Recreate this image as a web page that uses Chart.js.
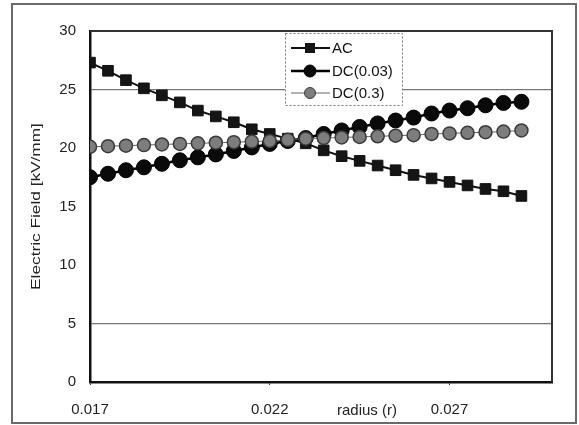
<!DOCTYPE html>
<html>
<head>
<meta charset="utf-8">
<script src="https://cdn.jsdelivr.net/npm/chart.js@4.4.1/dist/chart.umd.min.js"></script>
<style>
html,body{margin:0;padding:0;background:#fff;}
#wrap{width:579px;height:425px;position:relative;}
</style>
</head>
<body>
<div id="wrap"><canvas id="c" width="579" height="425"></canvas></div>
<script>
// ---- data ----
const radius = [0.0170,0.0175,0.0180,0.0185,0.0190,0.0195,0.0200,0.0205,0.0210,0.0215,0.0220,0.0225,0.0230,
                0.0235,0.0240,0.0245,0.0250,0.0255,0.0260,0.0265,0.0270,0.0275,0.0280,0.0285,0.0290];
const acValues = [27.3,26.6,25.8,25.1,24.5,23.9,23.2,22.7,22.2,21.6,21.2,20.8,20.4,
                  19.8,19.3,18.9,18.5,18.1,17.7,17.4,17.1,16.8,16.5,16.3,15.9];
const dc003Values = [17.5,17.8,18.1,18.35,18.65,18.95,19.2,19.45,19.75,20.05,20.35,20.6,20.85,
                     21.2,21.5,21.8,22.1,22.35,22.6,22.95,23.2,23.4,23.65,23.85,23.95];
const dc03Values = [20.1,20.15,20.2,20.25,20.3,20.35,20.4,20.45,20.5,20.55,20.6,20.7,20.8,
                    20.85,20.9,20.95,21.0,21.05,21.1,21.2,21.25,21.3,21.35,21.4,21.5];
const seriesNames = ['AC','DC(0.03)','DC(0.3)'];
const xTickValues = [0.017,0.022,0.027];
const yTickValues = [0,5,10,15,20,25,30];
const xTitle = 'radius (r)';
const yTitle = 'Electric Field [kV/mm]';

const FONT = "'Liberation Sans', Arial, sans-serif";
const toPts = (ys) => ys.map((y,i)=>({x: radius[i], y: y}));

const styles = [
  {borderColor:'#111', backgroundColor:'#151515', pointStyle:'rect', pointRadius:7.5, borderWidth:2, pbw:1, pbc:'#111'},
  {borderColor:'#000', backgroundColor:'#0a0a0a', pointStyle:'circle', pointRadius:7.5, borderWidth:2.5, pbw:1, pbc:'#000'},
  {borderColor:'#666', backgroundColor:'#7d7d7d', pointStyle:'circle', pointRadius:6.5, borderWidth:1, pbw:1.5, pbc:'#3a3a3a'}
];
const vals = [acValues, dc003Values, dc03Values];

const datasets = seriesNames.map((n,i)=>({
  label:n,
  data: toPts(vals[i]),
  borderColor: styles[i].borderColor,
  backgroundColor: styles[i].backgroundColor,
  pointBackgroundColor: styles[i].backgroundColor,
  pointBorderColor: styles[i].pbc,
  pointBorderWidth: styles[i].pbw,
  pointStyle: styles[i].pointStyle,
  pointRadius: styles[i].pointRadius,
  borderWidth: styles[i].borderWidth,
  tension: 0,
  order: 3 - i
}));

const framePlugin = {
  id:'frame',
  beforeDraw(chart){
    const ctx = chart.ctx;
    ctx.save();
    ctx.fillStyle='#fff';
    ctx.fillRect(0,0,chart.width,chart.height);
    ctx.strokeStyle='#6a6a6a';
    ctx.lineWidth=2;
    ctx.strokeRect(12,4,564,419);
    ctx.restore();
  },
  afterDatasetsDraw(chart){
    const ctx = chart.ctx, a = chart.chartArea;
    ctx.save();
    // top & right border of plot area
    ctx.strokeStyle='#333';
    ctx.lineWidth=2;
    ctx.beginPath();
    ctx.moveTo(a.left, a.top); ctx.lineTo(a.right, a.top); ctx.lineTo(a.right, a.bottom);
    ctx.stroke();
    // x title inline with tick labels
    ctx.fillStyle='#222';
    ctx.font = "15px " + FONT;
    ctx.textAlign='center';
    ctx.textBaseline='middle';
    ctx.fillText(xTitle, a.left + 277, a.bottom + 29);
    // y title (stretched along its length like the scanned original)
    ctx.save();
    ctx.translate(a.left - 54, (a.top + a.bottom) / 2);
    ctx.rotate(-Math.PI/2);
    ctx.scale(1.15, 0.9);
    ctx.font = "15px " + FONT;
    ctx.fillText(yTitle, 0, 0);
    ctx.restore();
    // legend
    const bx = a.left + 195, by = a.top + 2, bw = 117, bh = 72;
    ctx.fillStyle='#fff';
    ctx.fillRect(bx,by,bw,bh);
    ctx.setLineDash([2,2]);
    ctx.strokeStyle='#777';
    ctx.lineWidth=1;
    ctx.strokeRect(bx+0.5,by+0.5,bw,bh);
    ctx.setLineDash([]);
    const rows = [by+15, by+38, by+60];
    chart.data.datasets.forEach((ds,i)=>{
      const y = rows[i];
      ctx.strokeStyle = ds.borderColor;
      ctx.lineWidth = ds.borderWidth;
      ctx.beginPath(); ctx.moveTo(bx+6,y); ctx.lineTo(bx+45,y); ctx.stroke();
      ctx.fillStyle = ds.pointBackgroundColor;
      ctx.strokeStyle = ds.pointBorderColor;
      ctx.lineWidth = 1;
      if (ds.pointStyle==='rect'){
        ctx.fillRect(bx+20,y-5,10,10);
      } else {
        ctx.beginPath(); ctx.arc(bx+25,y,i===1?6:5.5,0,Math.PI*2); ctx.fill(); ctx.stroke();
      }
      ctx.fillStyle='#111';
      ctx.font = "15px " + FONT;
      ctx.textAlign='left';
      ctx.fillText(ds.label, bx+47, y+1);
    });
    ctx.restore();
  }
};

new Chart(document.getElementById('c'), {
  type:'line',
  data:{datasets},
  options:{
    responsive:false,
    animation:false,
    layout:{padding:{left:0,top:31,right:27,bottom:0}},
    plugins:{legend:{display:false},tooltip:{enabled:false}},
    scales:{
      x:{
        type:'linear',
        min:0.017, max:0.02985,
        afterBuildTicks(s){ s.ticks = xTickValues.map(v=>({value:v})); },
        afterFit(s){ s.height = 43; },
        ticks:{
          padding:16,
          color:'#222',
          font:{family:FONT,size:15},
          maxRotation:0,
          callback:(v)=>Number(v).toFixed(3)
        },
        grid:{drawOnChartArea:false, drawTicks:true, tickLength:3, tickColor:'#333'},
        border:{color:'#111', width:2.5}
      },
      y:{
        min:0, max:30,
        afterBuildTicks(s){ s.ticks = yTickValues.map(v=>({value:v})); },
        afterFit(s){ s.width = 90; },
        ticks:{
          padding:14,
          color:'#222',
          font:{family:FONT,size:15}
        },
        grid:{
          drawTicks:false,
          color:(c)=> (c.tick && (c.tick.value===5 || c.tick.value===25)) ? '#777' : 'rgba(0,0,0,0)',
          lineWidth:1.2
        },
        border:{color:'#111', width:2.5},
        title:{display:false}
      }
    }
  },
  plugins:[framePlugin]
});
</script>
</body>
</html>
